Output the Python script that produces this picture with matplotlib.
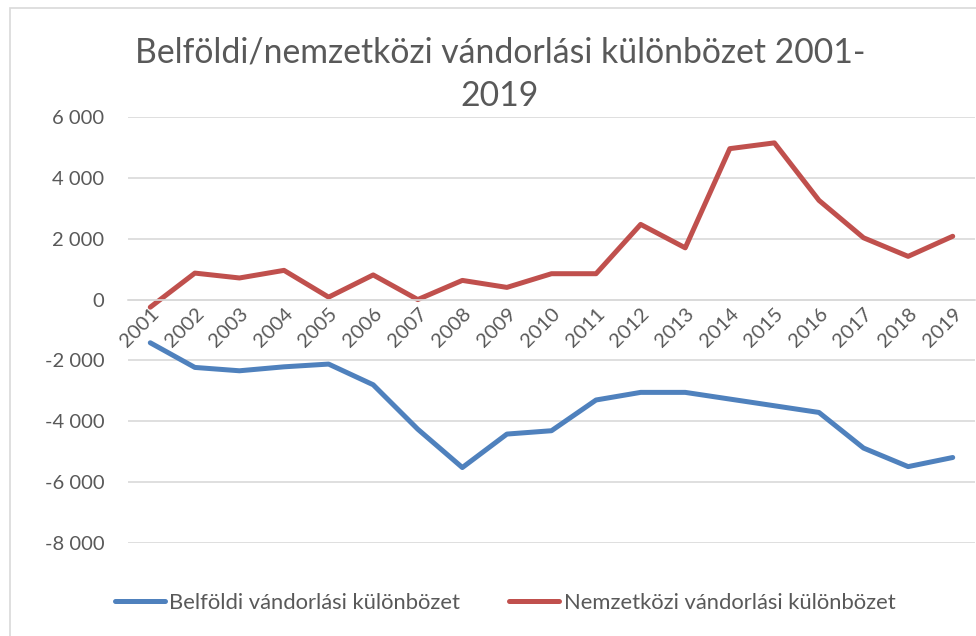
import matplotlib
matplotlib.use("Agg")
import matplotlib.pyplot as plt
from matplotlib.patches import Rectangle
from matplotlib.ticker import FuncFormatter

# ------------------------------------------------------------------
# Data
# ------------------------------------------------------------------
years = [str(y) for y in range(2001, 2020)]
belfoldi = [-1420, -2230, -2340, -2210, -2120, -2800, -4260, -5520, -4420, -4310,
            -3300, -3050, -3050, -3270, -3490, -3710, -4880, -5490, -5190]
nemzetkozi = [-250, 870, 710, 960, 80, 810, 0, 630, 400, 850,
              850, 2470, 1700, 4960, 5150, 3260, 2030, 1420, 2080]

title = "Belföldi/nemzetközi vándorlási különbözet 2001-\n2019"
label_bel = "Belföldi vándorlási különbözet"
label_nem = "Nemzetközi vándorlási különbözet"

BLUE = "#4F81BD"
RED = "#C0504D"
GRID = "#D9D9D9"
TEXT = "#595959"

plt.rcParams["font.family"] = ["Lato", "DejaVu Sans"]

W, H = 976, 636
fig = plt.figure(figsize=(W / 100, H / 100), dpi=100)
ax = fig.add_axes([128 / W, 1 - 543 / H, (975 - 128) / W, (543 - 117) / H])

x = list(range(len(years)))
ax.plot(x, belfoldi, color=BLUE, lw=3.6, solid_capstyle="round", label=label_bel)
ax.plot(x, nemzetkozi, color=RED, lw=3.6, solid_capstyle="round", label=label_nem)

ax.set_xlim(-0.5, len(years) - 0.5)
ax.set_ylim(-8000, 6000)
ax.set_yticks(range(-8000, 6001, 2000))
ax.yaxis.set_major_formatter(FuncFormatter(lambda v, _: f"{int(v):,}".replace(",", " ")))
ax.grid(axis="y", color=GRID, lw=1.2)
ax.set_axisbelow(True)

for s in ["top", "right", "left"]:
    ax.spines[s].set_visible(False)
ax.spines["bottom"].set_position(("data", 0))
ax.spines["bottom"].set_color(GRID)
ax.spines["bottom"].set_linewidth(1.2)

ax.set_xticks(x)
ax.set_xticklabels(years, rotation=45, ha="right", va="top", rotation_mode="anchor")
ax.tick_params(axis="x", length=0, pad=4, labelsize=14.5, labelcolor=TEXT)
ax.tick_params(axis="y", length=0, pad=17, labelsize=14.5, labelcolor=TEXT)

fig.text(500 / W, 1 - 74 / H, title, ha="center", va="center", fontsize=24.3,
         color=TEXT, linespacing=1.45)

leg = fig.legend(loc="center", bbox_to_anchor=(505 / W, 1 - 603 / H), ncol=2,
                 frameon=False, fontsize=15.8, handlelength=2.3, handletextpad=0.2,
                 columnspacing=2.2)
for t in leg.get_texts():
    t.set_color(TEXT)

# chart border
fig.add_artist(Rectangle((10 / W, -0.05), 1.1, 1 - 8 / H + 0.05, transform=fig.transFigure,
                         fill=False, edgecolor=GRID, lw=1.2))

fig.savefig("out.png", dpi=100, facecolor="white")
